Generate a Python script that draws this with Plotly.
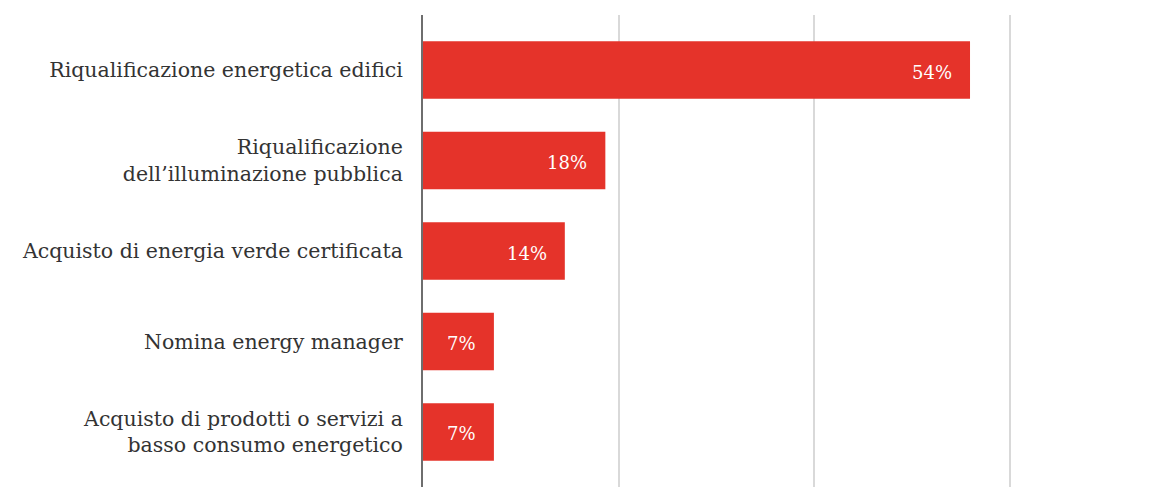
import plotly.graph_objects as go

# Share of interventions (%)
categories = [
    "Riqualificazione energetica edifici",
    "Riqualificazione<br>dell’illuminazione pubblica",
    "Acquisto di energia verde certificata",
    "Nomina energy manager",
    "Acquisto di prodotti o servizi a<br>basso consumo energetico",
]
values = [54, 18, 14, 7, 7]
value_labels = ["54%", "18%", "14%", "7%", "7%"]

BAR_COLOR = "#e5332a"
TEXT_COLOR = "#333333"
FONT = "DejaVu Serif"

W, H = 1176, 488
M_L, M_R, M_T, M_B = 423, 0, 15, 1
PX_PER_UNIT = 10.13
x_max = (W - M_L - M_R) / PX_PER_UNIT
GRID_STEP = 19.3

fig = go.Figure(
    go.Bar(
        x=values,
        y=list(range(len(categories))),
        orientation="h",
        marker=dict(color=BAR_COLOR, line=dict(width=0)),
        width=0.636,
        hoverinfo="skip",
    )
)

# value labels, right-aligned inside each bar
for i, (v, lab) in enumerate(zip(values, value_labels)):
    fig.add_annotation(
        x=v, y=i, text=lab, showarrow=False,
        xanchor="right", yanchor="middle", xshift=-16, yshift=-2,
        font=dict(family=FONT, size=18, color="white"),
    )

fig.update_layout(
    width=W, height=H,
    margin=dict(l=M_L, r=M_R, t=M_T, b=M_B, pad=0),
    paper_bgcolor="white", plot_bgcolor="white",
    showlegend=False,
    font=dict(family=FONT, size=20, color=TEXT_COLOR),
    xaxis=dict(
        range=[0, x_max],
        tickmode="array",
        tickvals=[GRID_STEP, 2 * GRID_STEP, 3 * GRID_STEP],
        showticklabels=False,
        ticks="",
        showgrid=True, gridcolor="#d9d9d9", gridwidth=2,
        zeroline=False, showline=False,
        fixedrange=True,
    ),
    yaxis=dict(
        range=[len(categories) - 1 + 0.608, -0.608],
        tickmode="array",
        tickvals=list(range(len(categories))),
        ticktext=categories,
        ticks="",
        ticklabelstandoff=14,
        tickfont=dict(family=FONT, size=20.5, color=TEXT_COLOR),
        showgrid=False, zeroline=False,
        showline=True, linecolor="#6e6e6e", linewidth=2,
        fixedrange=True,
    ),
)

fig.write_html("out.html")
